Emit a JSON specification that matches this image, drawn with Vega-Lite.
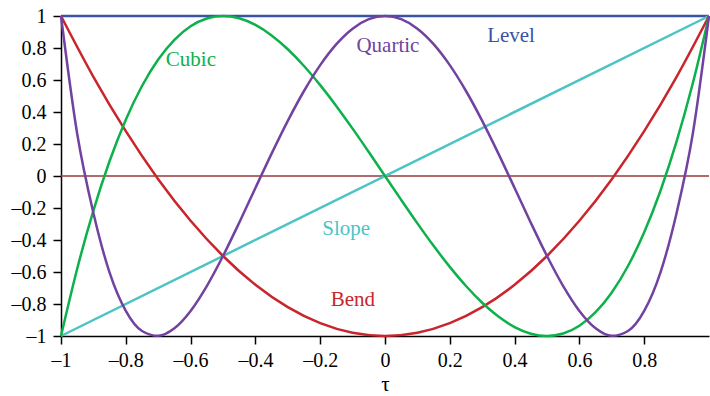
{
  "$schema": "https://vega.github.io/schema/vega-lite/v6.json",
  "width": 648,
  "height": 320,
  "autosize": {"type": "none"},
  "padding": {"left": 61, "top": 16, "right": 1, "bottom": 60},
  "background": "white",
  "config": {
    "view": {"stroke": null},
    "font": "Liberation Serif",
    "axis": {
      "grid": false,
      "domainColor": "black",
      "domainWidth": 1.5,
      "tickColor": "black",
      "tickWidth": 1.5,
      "tickSize": 8,
      "labelFont": "Liberation Serif",
      "labelFontSize": 20,
      "labelColor": "black",
      "labelOverlap": false,
      "labelFlush": false,
      "titleFont": "Liberation Serif",
      "titleFontSize": 21,
      "titleFontWeight": "normal",
      "titleColor": "black"
    }
  },
  "resolve": {"axis": {"x": "independent", "y": "independent"}},
  "datasets": {
    "curves": [
      {"series": "Level", "x": -1, "y": 1},
      {"series": "Level", "x": 1, "y": 1},
      {"series": "Slope", "x": -1, "y": -1},
      {"series": "Slope", "x": 1, "y": 1},
      {"series": "Bend", "x": -1, "y": 1},
      {"series": "Bend", "x": -0.9, "y": 0.62},
      {"series": "Bend", "x": -0.8, "y": 0.28},
      {"series": "Bend", "x": -0.7, "y": -0.02},
      {"series": "Bend", "x": -0.6, "y": -0.28},
      {"series": "Bend", "x": -0.5, "y": -0.5},
      {"series": "Bend", "x": -0.4, "y": -0.68},
      {"series": "Bend", "x": -0.3, "y": -0.82},
      {"series": "Bend", "x": -0.2, "y": -0.92},
      {"series": "Bend", "x": -0.1, "y": -0.98},
      {"series": "Bend", "x": 0, "y": -1},
      {"series": "Bend", "x": 0.1, "y": -0.98},
      {"series": "Bend", "x": 0.2, "y": -0.92},
      {"series": "Bend", "x": 0.3, "y": -0.82},
      {"series": "Bend", "x": 0.4, "y": -0.68},
      {"series": "Bend", "x": 0.5, "y": -0.5},
      {"series": "Bend", "x": 0.6, "y": -0.28},
      {"series": "Bend", "x": 0.7, "y": -0.02},
      {"series": "Bend", "x": 0.8, "y": 0.28},
      {"series": "Bend", "x": 0.9, "y": 0.62},
      {"series": "Bend", "x": 1, "y": 1},
      {"series": "Cubic", "x": -1, "y": -1},
      {"series": "Cubic", "x": -0.95, "y": -0.5795},
      {"series": "Cubic", "x": -0.9, "y": -0.216},
      {"series": "Cubic", "x": -0.85, "y": 0.0935},
      {"series": "Cubic", "x": -0.8, "y": 0.352},
      {"series": "Cubic", "x": -0.75, "y": 0.5625},
      {"series": "Cubic", "x": -0.7, "y": 0.728},
      {"series": "Cubic", "x": -0.65, "y": 0.8515},
      {"series": "Cubic", "x": -0.6, "y": 0.936},
      {"series": "Cubic", "x": -0.55, "y": 0.9845},
      {"series": "Cubic", "x": -0.5, "y": 1},
      {"series": "Cubic", "x": -0.45, "y": 0.9855},
      {"series": "Cubic", "x": -0.4, "y": 0.944},
      {"series": "Cubic", "x": -0.35, "y": 0.8785},
      {"series": "Cubic", "x": -0.3, "y": 0.792},
      {"series": "Cubic", "x": -0.25, "y": 0.6875},
      {"series": "Cubic", "x": -0.2, "y": 0.568},
      {"series": "Cubic", "x": -0.15, "y": 0.4365},
      {"series": "Cubic", "x": -0.1, "y": 0.296},
      {"series": "Cubic", "x": -0.05, "y": 0.1495},
      {"series": "Cubic", "x": 0, "y": 0},
      {"series": "Cubic", "x": 0.05, "y": -0.1495},
      {"series": "Cubic", "x": 0.1, "y": -0.296},
      {"series": "Cubic", "x": 0.15, "y": -0.4365},
      {"series": "Cubic", "x": 0.2, "y": -0.568},
      {"series": "Cubic", "x": 0.25, "y": -0.6875},
      {"series": "Cubic", "x": 0.3, "y": -0.792},
      {"series": "Cubic", "x": 0.35, "y": -0.8785},
      {"series": "Cubic", "x": 0.4, "y": -0.944},
      {"series": "Cubic", "x": 0.45, "y": -0.9855},
      {"series": "Cubic", "x": 0.5, "y": -1},
      {"series": "Cubic", "x": 0.55, "y": -0.9845},
      {"series": "Cubic", "x": 0.6, "y": -0.936},
      {"series": "Cubic", "x": 0.65, "y": -0.8515},
      {"series": "Cubic", "x": 0.7, "y": -0.728},
      {"series": "Cubic", "x": 0.75, "y": -0.5625},
      {"series": "Cubic", "x": 0.8, "y": -0.352},
      {"series": "Cubic", "x": 0.85, "y": -0.0935},
      {"series": "Cubic", "x": 0.9, "y": 0.216},
      {"series": "Cubic", "x": 0.95, "y": 0.5795},
      {"series": "Cubic", "x": 1, "y": 1},
      {"series": "Quartic", "x": -1, "y": 1},
      {"series": "Quartic", "x": -0.95, "y": 0.26405},
      {"series": "Quartic", "x": -0.9, "y": -0.2312},
      {"series": "Quartic", "x": -0.85, "y": -0.60395},
      {"series": "Quartic", "x": -0.8, "y": -0.8432},
      {"series": "Quartic", "x": -0.75, "y": -0.96875},
      {"series": "Quartic", "x": -0.7, "y": -0.9992},
      {"series": "Quartic", "x": -0.65, "y": -0.95195},
      {"series": "Quartic", "x": -0.6, "y": -0.8432},
      {"series": "Quartic", "x": -0.55, "y": -0.68795},
      {"series": "Quartic", "x": -0.5, "y": -0.5},
      {"series": "Quartic", "x": -0.45, "y": -0.29195},
      {"series": "Quartic", "x": -0.4, "y": -0.0752},
      {"series": "Quartic", "x": -0.35, "y": 0.14005},
      {"series": "Quartic", "x": -0.3, "y": 0.3448},
      {"series": "Quartic", "x": -0.25, "y": 0.53125},
      {"series": "Quartic", "x": -0.2, "y": 0.6928},
      {"series": "Quartic", "x": -0.15, "y": 0.82405},
      {"series": "Quartic", "x": -0.1, "y": 0.9208},
      {"series": "Quartic", "x": -0.05, "y": 0.98005},
      {"series": "Quartic", "x": 0, "y": 1},
      {"series": "Quartic", "x": 0.05, "y": 0.98005},
      {"series": "Quartic", "x": 0.1, "y": 0.9208},
      {"series": "Quartic", "x": 0.15, "y": 0.82405},
      {"series": "Quartic", "x": 0.2, "y": 0.6928},
      {"series": "Quartic", "x": 0.25, "y": 0.53125},
      {"series": "Quartic", "x": 0.3, "y": 0.3448},
      {"series": "Quartic", "x": 0.35, "y": 0.14005},
      {"series": "Quartic", "x": 0.4, "y": -0.0752},
      {"series": "Quartic", "x": 0.45, "y": -0.29195},
      {"series": "Quartic", "x": 0.5, "y": -0.5},
      {"series": "Quartic", "x": 0.55, "y": -0.68795},
      {"series": "Quartic", "x": 0.6, "y": -0.8432},
      {"series": "Quartic", "x": 0.65, "y": -0.95195},
      {"series": "Quartic", "x": 0.7, "y": -0.9992},
      {"series": "Quartic", "x": 0.75, "y": -0.96875},
      {"series": "Quartic", "x": 0.8, "y": -0.8432},
      {"series": "Quartic", "x": 0.85, "y": -0.60395},
      {"series": "Quartic", "x": 0.9, "y": -0.2312},
      {"series": "Quartic", "x": 0.95, "y": 0.26405},
      {"series": "Quartic", "x": 1, "y": 1}
    ],
    "labels": [
      {"series": "Level", "x": 0.389, "y": 0.875},
      {"series": "Quartic", "x": 0.009, "y": 0.8125},
      {"series": "Cubic", "x": -0.599, "y": 0.725},
      {"series": "Slope", "x": -0.12, "y": -0.331},
      {"series": "Bend", "x": -0.099, "y": -0.775}
    ]
  },
  "layer": [
    {
      "data": {"values": [{"y": 0}]},
      "mark": {"type": "rule", "color": "#983a3a", "strokeWidth": 1.5},
      "encoding": {
        "y": {"field": "y", "type": "quantitative", "axis": null}
      }
    },
    {
      "data": {"name": "curves"},
      "mark": {"type": "line", "strokeWidth": 2.5, "clip": false, "interpolate": "monotone"},
      "encoding": {
        "x": {
          "field": "x", "type": "quantitative",
          "scale": {"domain": [-1, 1], "nice": false, "zero": false},
          "axis": {
            "title": "τ",
            "values": [-1, -0.8, -0.6, -0.4, -0.2, 0, 0.2, 0.4, 0.6, 0.8],
            "labelExpr": "replace(replace(format(datum.value, '~g'), '−', '–'), '-', '–')",
            "labelOverlap": false,
            "labelPadding": 6,
            "titlePadding": 3
          }
        },
        "y": {
          "field": "y", "type": "quantitative",
          "scale": {"domain": [-1, 1], "nice": false, "zero": false},
          "axis": {
            "title": null,
            "values": [-1, -0.8, -0.6, -0.4, -0.2, 0, 0.2, 0.4, 0.6, 0.8, 1],
            "labelExpr": "replace(replace(format(datum.value, '~g'), '−', '–'), '-', '–')",
            "labelOverlap": false,
            "labelPadding": 7
          }
        },
        "color": {
          "field": "series", "type": "nominal",
          "scale": {
            "domain": ["Level", "Slope", "Bend", "Cubic", "Quartic"],
            "range": ["#3a53a4", "#4cc4c6", "#c9252c", "#0db14b", "#7142a0"]
          },
          "legend": null
        }
      }
    },
    {
      "data": {"name": "labels"},
      "mark": {"type": "text", "font": "Liberation Serif", "fontSize": 21, "align": "center", "baseline": "middle"},
      "encoding": {
        "x": {"field": "x", "type": "quantitative", "axis": null},
        "y": {"field": "y", "type": "quantitative", "axis": null},
        "text": {"field": "series"},
        "color": {"field": "series", "type": "nominal", "legend": null}
      }
    }
  ]
}
